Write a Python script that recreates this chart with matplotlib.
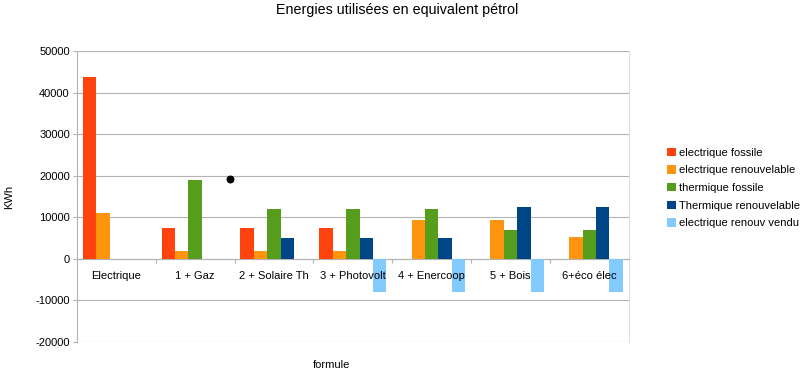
import numpy as np
import matplotlib

matplotlib.use("Agg")
import matplotlib.pyplot as plt

plt.rcParams["font.family"] = ["Liberation Sans", "DejaVu Sans"]
plt.rcParams["axes.unicode_minus"] = False

categories = ["Electrique", "1 + Gaz", "2 + Solaire Th", "3 + Photovolt",
              "4 + Enercoop", "5 + Bois", "6+éco élec"]
series_names = ["electrique fossile", "electrique renouvelable", "thermique fossile",
                "Thermique renouvelable", "electrique renouv vendu"]
elec_fossile = [43700, 7400, 7400, 7400, 0, 0, 0]
elec_renouv = [11000, 1900, 1900, 1900, 9400, 9400, 5200]
therm_fossile = [0, 19000, 12000, 12000, 12000, 7000, 7000]
therm_renouv = [0, 0, 5000, 5000, 5000, 12500, 12500]
elec_vendu = [0, 0, 0, -8000, -8000, -8000, -8000]
stray_point = (1.44, 19300)

colors = ["#ff420e", "#ff950e", "#579d1c", "#004586", "#83caff"]
series = [elec_fossile, elec_renouv, therm_fossile, therm_renouv, elec_vendu]

fig = plt.figure(figsize=(8, 3.72), dpi=100)
ax = fig.add_axes([0.096, 0.081, 0.69, 0.782])

x = np.arange(len(categories))
n = len(series)
w = 0.85 / n
for k, (vals, c, name) in enumerate(zip(series, colors, series_names)):
    ax.bar(x - 0.425 + w * (k + 0.5), vals, width=w, color=c, label=name, zorder=3)

ax.scatter([stray_point[0]], [stray_point[1]], s=22, color="black", zorder=4)

ax.set_xlim(-0.5, len(categories) - 0.5)
ax.set_ylim(-20000, 50000)
ax.set_yticks(np.arange(-20000, 50001, 10000))
ax.tick_params(axis="y", labelsize=8, length=3, color="#b3b3b3", pad=2)
ax.yaxis.grid(True, color="#b3b3b3", lw=0.8, zorder=0)

# x axis on the zero line, ticks at category boundaries
ax.spines["bottom"].set_position(("data", 0))
ax.spines["bottom"].set_color("#b3b3b3")
ax.spines["left"].set_color("#b3b3b3")
ax.spines["right"].set_color("#e0e0e0")
ax.spines["top"].set_visible(False)
ax.set_xticks(np.arange(0.5, len(categories) - 0.5, 1))
ax.set_xticklabels([])
ax.tick_params(axis="x", length=3, color="#b3b3b3")

for i, lab in enumerate(categories):
    ax.annotate(lab, xy=(i, 0), xytext=(0, -8.5), textcoords="offset points",
                ha="center", va="top", fontsize=8, zorder=5)

fig.text(0.496, 0.992, "Energies utilisées en equivalent pétrol", ha="center",
         va="top", fontsize=10.3)
fig.text(0.414, 0.032, "formule", ha="center", va="top", fontsize=8)
fig.text(0.012, 0.47, "KWh", rotation=90, ha="center", va="center", fontsize=8)

leg = fig.legend(loc="upper left", bbox_to_anchor=(0.828, 0.615), frameon=False,
                 fontsize=8, handlelength=0.8, handleheight=0.8,
                 handletextpad=0.3, labelspacing=0.68, borderaxespad=0)

fig.savefig("out.png", dpi=100)
